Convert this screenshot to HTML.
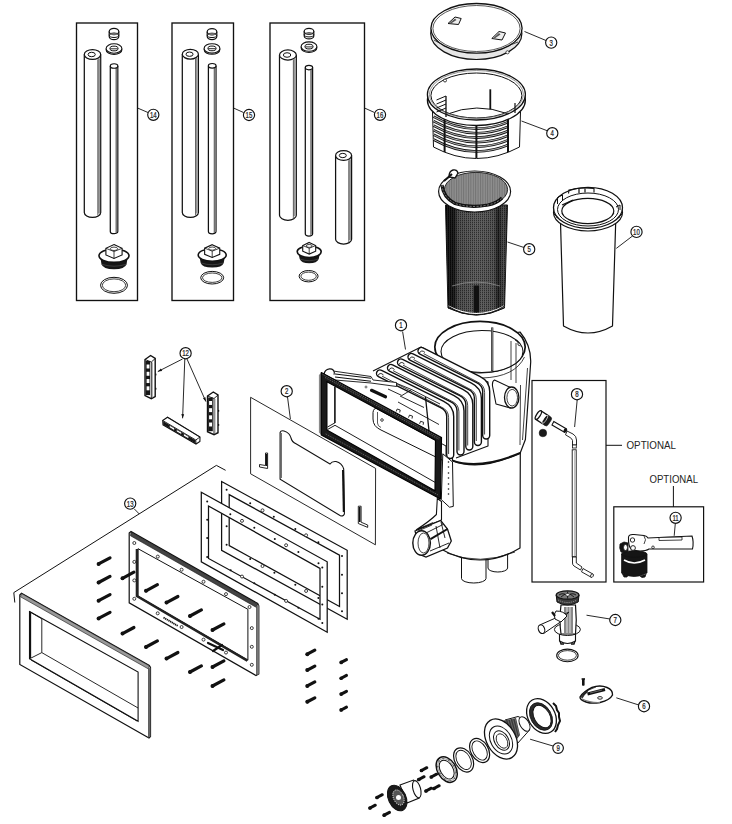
<!DOCTYPE html>
<html><head><meta charset="utf-8"><style>
html,body{margin:0;padding:0;background:#fff;}
svg{display:block;font-family:"Liberation Sans",sans-serif;} text{opacity:0.99;}
</style></head><body>
<svg width="732" height="824" viewBox="0 0 732 824">
<rect width="732" height="824" fill="#fff"/>
<rect x="76.5" y="23" width="61" height="277.5" fill="none" stroke="#111" stroke-width="1.35"/>
<rect x="172" y="23" width="61.5" height="277.5" fill="none" stroke="#111" stroke-width="1.35"/>
<rect x="270" y="23" width="94.5" height="277.5" fill="none" stroke="#111" stroke-width="1.35"/>
<path d="M109.2 31.536 L109.2 36.464 A4.8 3.136000000000001 0 0 0 118.8 36.464 L118.8 31.536" fill="#fff" stroke="#111" stroke-width="1.2"/>
<ellipse cx="114" cy="31.536" rx="4.8" ry="3.136000000000001" fill="#fff" stroke="#111" stroke-width="1.2"/>
<path d="M109.2 34.672 A4.8 2.822400000000001 0 0 0 118.8 34.672" fill="none" stroke="#111" stroke-width="1"/>
<path d="M110.2 34.672 A3.8 1.8816000000000006 0 0 1 117.8 34.672" fill="#888" stroke="#111" stroke-width="0.6"/>
<ellipse cx="114" cy="49.7" rx="7.9" ry="4.7" fill="#fff" stroke="#111" stroke-width="1.1"/>
<ellipse cx="114" cy="48.5" rx="7.9" ry="4.7" fill="#fff" stroke="#111" stroke-width="1.1"/>
<ellipse cx="114" cy="48.5" rx="4.1080000000000005" ry="2.35" fill="#fff" stroke="#111" stroke-width="1"/>
<path d="M110.208 48.8 L117.792 48.8" stroke="#111" stroke-width="0.9"/>
<path d="M84.3 54.5 L84.3 212.48000000000002 A8.200000000000003 4.920000000000002 0 0 0 100.7 212.48000000000002 L100.7 54.5" fill="#fff" stroke="#111" stroke-width="1.25"/>
<rect x="97.804" y="58.436" width="2.296000000000001" height="155.028" fill="#9a9a9a"/>
<line x1="97.804" y1="59.42" x2="97.804" y2="215.43200000000002" stroke="#333" stroke-width="0.7"/>
<ellipse cx="92.5" cy="54.5" rx="8.200000000000003" ry="4.920000000000002" fill="#fff" stroke="#111" stroke-width="1.2"/>
<ellipse cx="91.68" cy="54.5" rx="3.6080000000000014" ry="2.214000000000001" fill="#fff" stroke="#111" stroke-width="1"/>
<path d="M110.3 66 L110.3 231.45 A3.75 2.25 0 0 0 117.8 231.45 L117.8 66" fill="#fff" stroke="#111" stroke-width="1.25"/>
<rect x="116.0" y="67.8" width="1.2" height="164.1" fill="#9a9a9a"/>
<line x1="116.0" y1="68.25" x2="116.0" y2="232.79999999999998" stroke="#333" stroke-width="0.7"/>
<ellipse cx="114.05" cy="66" rx="3.75" ry="2.25" fill="#fff" stroke="#111" stroke-width="1.2"/>
<path d="M100.0 255.715 L101.5 264.36 Q103.0 269.3 114 269.3 Q125.0 269.3 126.5 264.36 L128.0 255.715 Z" fill="#161616"/>
<path d="M102.0 264.36 Q114 268.065 126.0 264.36" fill="none" stroke="#555" stroke-width="0.6"/>
<ellipse cx="114" cy="255.715" rx="15.0" ry="6.669000000000005" fill="#fff" stroke="#111" stroke-width="1.6"/>
<path d="M114 244.6 L122.1 248.305 L122.1 254.974 L114 258.432 L105.9 254.974 L105.9 248.305 Z" fill="#fff" stroke="#111" stroke-width="1.1"/>
<path d="M105.9 248.305 L114 251.516 L122.1 248.305 M114 251.516 L114 258.432" fill="none" stroke="#111" stroke-width="0.8"/>
<ellipse cx="114" cy="248.799" rx="3.645000000000001" ry="1.7290000000000014" fill="#fff" stroke="#111" stroke-width="0.8"/>
<ellipse cx="114" cy="285.3" rx="13.5" ry="8" fill="none" stroke="#111" stroke-width="1"/>
<ellipse cx="114" cy="285.3" rx="11.7" ry="6.4" fill="none" stroke="#111" stroke-width="0.8"/>
<path d="M207.2 31.752 L207.2 36.548 A4.8 3.052000000000001 0 0 0 216.79999999999998 36.548 L216.79999999999998 31.752" fill="#fff" stroke="#111" stroke-width="1.2"/>
<ellipse cx="212" cy="31.752" rx="4.8" ry="3.052000000000001" fill="#fff" stroke="#111" stroke-width="1.2"/>
<path d="M207.2 34.804 A4.8 2.746800000000001 0 0 0 216.79999999999998 34.804" fill="none" stroke="#111" stroke-width="1"/>
<path d="M208.2 34.804 A3.8 1.8312000000000004 0 0 1 215.79999999999998 34.804" fill="#888" stroke="#111" stroke-width="0.6"/>
<ellipse cx="212" cy="49.6" rx="7.9" ry="4.7" fill="#fff" stroke="#111" stroke-width="1.1"/>
<ellipse cx="212" cy="48.4" rx="7.9" ry="4.7" fill="#fff" stroke="#111" stroke-width="1.1"/>
<ellipse cx="212" cy="48.4" rx="4.1080000000000005" ry="2.35" fill="#fff" stroke="#111" stroke-width="1"/>
<path d="M208.208 48.699999999999996 L215.792 48.699999999999996" stroke="#111" stroke-width="0.9"/>
<path d="M182.3 54.2 L182.3 212.57 A8.049999999999997 4.829999999999998 0 0 0 198.4 212.57 L198.4 54.2" fill="#fff" stroke="#111" stroke-width="1.25"/>
<rect x="195.54600000000002" y="58.064" width="2.2539999999999996" height="155.47199999999998" fill="#9a9a9a"/>
<line x1="195.54600000000002" y1="59.03" x2="195.54600000000002" y2="215.46800000000002" stroke="#333" stroke-width="0.7"/>
<ellipse cx="190.35000000000002" cy="54.2" rx="8.049999999999997" ry="4.829999999999998" fill="#fff" stroke="#111" stroke-width="1.2"/>
<ellipse cx="189.54500000000002" cy="54.2" rx="3.541999999999999" ry="2.1734999999999993" fill="#fff" stroke="#111" stroke-width="1"/>
<path d="M208.4 65.8 L208.4 231.52 A3.799999999999997 2.279999999999998 0 0 0 216 231.52 L216 65.8" fill="#fff" stroke="#111" stroke-width="1.25"/>
<rect x="214.20000000000002" y="67.624" width="1.2" height="164.352" fill="#9a9a9a"/>
<line x1="214.20000000000002" y1="68.08" x2="214.20000000000002" y2="232.888" stroke="#333" stroke-width="0.7"/>
<ellipse cx="212.2" cy="65.8" rx="3.799999999999997" ry="2.279999999999998" fill="#fff" stroke="#111" stroke-width="1.2"/>
<path d="M199.2 255.005 L200.7 263.02000000000004 Q202.2 267.6 212.2 267.6 Q222.2 267.6 223.7 263.02000000000004 L225.2 255.005 Z" fill="#161616"/>
<path d="M201.2 263.02000000000004 Q212.2 266.45500000000004 223.2 263.02000000000004" fill="none" stroke="#555" stroke-width="0.6"/>
<ellipse cx="212.2" cy="255.005" rx="14.0" ry="6.18300000000001" fill="#fff" stroke="#111" stroke-width="1.6"/>
<path d="M212.2 244.7 L219.76 248.135 L219.76 254.318 L212.2 257.524 L204.64 254.318 L204.64 248.135 Z" fill="#fff" stroke="#111" stroke-width="1.1"/>
<path d="M204.64 248.135 L212.2 251.112 L219.76 248.135 M212.2 251.112 L212.2 257.524" fill="none" stroke="#111" stroke-width="0.8"/>
<ellipse cx="212.2" cy="248.593" rx="3.402" ry="1.6030000000000026" fill="#fff" stroke="#111" stroke-width="0.8"/>
<ellipse cx="212.2" cy="277.7" rx="11.5" ry="6.3" fill="none" stroke="#111" stroke-width="1"/>
<ellipse cx="212.2" cy="277.7" rx="9.7" ry="4.699999999999999" fill="none" stroke="#111" stroke-width="0.8"/>
<path d="M304.2 31.34 L304.2 35.96 A4.8 2.9400000000000004 0 0 0 313.8 35.96 L313.8 31.34" fill="#fff" stroke="#111" stroke-width="1.2"/>
<ellipse cx="309" cy="31.34" rx="4.8" ry="2.9400000000000004" fill="#fff" stroke="#111" stroke-width="1.2"/>
<path d="M304.2 34.28 A4.8 2.6460000000000004 0 0 0 313.8 34.28" fill="none" stroke="#111" stroke-width="1"/>
<path d="M305.2 34.28 A3.8 1.7640000000000002 0 0 1 312.8 34.28" fill="#888" stroke="#111" stroke-width="0.6"/>
<ellipse cx="309" cy="47.800000000000004" rx="7.9" ry="4.7" fill="#fff" stroke="#111" stroke-width="1.1"/>
<ellipse cx="309" cy="46.6" rx="7.9" ry="4.7" fill="#fff" stroke="#111" stroke-width="1.1"/>
<ellipse cx="309" cy="46.6" rx="4.1080000000000005" ry="2.35" fill="#fff" stroke="#111" stroke-width="1"/>
<path d="M305.208 46.9 L312.792 46.9" stroke="#111" stroke-width="0.9"/>
<path d="M279.5 55 L279.5 215.26000000000002 A8.400000000000006 5.040000000000004 0 0 0 296.3 215.26000000000002 L296.3 55" fill="#fff" stroke="#111" stroke-width="1.25"/>
<rect x="293.348" y="59.032000000000004" width="2.3520000000000016" height="157.23600000000002" fill="#9a9a9a"/>
<line x1="293.348" y1="60.040000000000006" x2="293.348" y2="218.28400000000002" stroke="#333" stroke-width="0.7"/>
<ellipse cx="287.9" cy="55" rx="8.400000000000006" ry="5.040000000000004" fill="#fff" stroke="#111" stroke-width="1.2"/>
<ellipse cx="287.06" cy="55" rx="3.6960000000000024" ry="2.2680000000000016" fill="#fff" stroke="#111" stroke-width="1"/>
<path d="M305.3 67.6 L305.3 233.81 A3.6500000000000057 2.1900000000000035 0 0 0 312.6 233.81 L312.6 67.6" fill="#fff" stroke="#111" stroke-width="1.25"/>
<rect x="310.8" y="69.352" width="1.2" height="164.896" fill="#9a9a9a"/>
<line x1="310.8" y1="69.78999999999999" x2="310.8" y2="235.124" stroke="#333" stroke-width="0.7"/>
<ellipse cx="308.95000000000005" cy="67.6" rx="3.6500000000000057" ry="2.1900000000000035" fill="#fff" stroke="#111" stroke-width="1.2"/>
<path d="M335.6 155.5 L335.6 239.2 A8.0 4.8 0 0 0 351.6 239.2 L351.6 155.5" fill="#fff" stroke="#111" stroke-width="1.25"/>
<rect x="348.76" y="159.34" width="2.24" height="80.82" fill="#9a9a9a"/>
<line x1="348.76" y1="160.3" x2="348.76" y2="242.08" stroke="#333" stroke-width="0.7"/>
<ellipse cx="343.6" cy="155.5" rx="8.0" ry="4.8" fill="#fff" stroke="#111" stroke-width="1.2"/>
<ellipse cx="342.8" cy="155.5" rx="3.52" ry="2.16" fill="#fff" stroke="#111" stroke-width="1"/>
<path d="M298.2 251.805 L299.7 259.12 Q301.2 263.3 309.2 263.3 Q317.2 263.3 318.7 259.12 L320.2 251.805 Z" fill="#161616"/>
<path d="M300.2 259.12 Q309.2 262.255 318.2 259.12" fill="none" stroke="#555" stroke-width="0.6"/>
<ellipse cx="309.2" cy="251.805" rx="12.0" ry="5.643000000000002" fill="#fff" stroke="#111" stroke-width="1.6"/>
<path d="M309.2 242.4 L315.68 245.535 L315.68 251.178 L309.2 254.104 L302.71999999999997 251.178 L302.71999999999997 245.535 Z" fill="#fff" stroke="#111" stroke-width="1.1"/>
<path d="M302.71999999999997 245.535 L309.2 248.252 L315.68 245.535 M309.2 248.252 L309.2 254.104" fill="none" stroke="#111" stroke-width="0.8"/>
<ellipse cx="309.2" cy="245.953" rx="2.9160000000000004" ry="1.4630000000000005" fill="#fff" stroke="#111" stroke-width="0.8"/>
<ellipse cx="308.6" cy="276.2" rx="9.5" ry="5.7" fill="none" stroke="#111" stroke-width="1"/>
<ellipse cx="308.6" cy="276.2" rx="7.7" ry="4.1" fill="none" stroke="#111" stroke-width="0.8"/>
<line x1="137.5" y1="108" x2="148" y2="112.5" stroke="#111" stroke-width="0.9"/>
<circle cx="153.3" cy="114.8" r="5.6" fill="#fff" stroke="#111" stroke-width="1.15"/>
<text x="153.3" y="117.75" font-size="8.2" text-anchor="middle" fill="#222" stroke="#222" stroke-width="0.25" transform="translate(153.3 0) scale(0.74 1) translate(-153.3 0)">14</text>
<line x1="233.5" y1="108" x2="243.5" y2="112.5" stroke="#111" stroke-width="0.9"/>
<circle cx="249" cy="115" r="5.6" fill="#fff" stroke="#111" stroke-width="1.15"/>
<text x="249" y="117.95" font-size="8.2" text-anchor="middle" fill="#222" stroke="#222" stroke-width="0.25" transform="translate(249 0) scale(0.74 1) translate(-249 0)">15</text>
<line x1="364.5" y1="108" x2="374.5" y2="112.5" stroke="#111" stroke-width="0.9"/>
<circle cx="380" cy="114.8" r="5.6" fill="#fff" stroke="#111" stroke-width="1.15"/>
<text x="380" y="117.75" font-size="8.2" text-anchor="middle" fill="#222" stroke="#222" stroke-width="0.25" transform="translate(380 0) scale(0.74 1) translate(-380 0)">16</text>
<g stroke="#111" fill="#fff">
<ellipse cx="476.3" cy="33.5" rx="45.6" ry="26" fill="#e6e6e6" stroke-width="1.2"/>
<path d="M434 40 Q470 63 518 42" fill="none" stroke="#444" stroke-width="1"/>
<ellipse cx="476.5" cy="28.3" rx="45.6" ry="24.8" stroke-width="1.3"/>
<ellipse cx="476.5" cy="28.5" rx="43.6" ry="23" fill="none" stroke-width="0.7"/>
<path d="M448 23.5 L455 17 L461.2 18.5 L458.5 24.5 Z" fill="#eee" stroke-width="1"/>
<path d="M449.5 23 L455 18.5 L456.5 20 L451.5 23.3 Z" fill="#555" stroke="none"/>
<path d="M491.8 38.5 L499 31.5 L505.5 33 L502 40 Z" fill="#eee" stroke-width="1"/>
<path d="M493.3 38 L499 33 L500.5 34.5 L495 38.3 Z" fill="#555" stroke="none"/>
<circle cx="507.5" cy="52.3" r="1.6" stroke-width="0.7"/>
</g>
<line x1="524.5" y1="31.5" x2="546" y2="40.5" stroke="#111" stroke-width="0.9"/>
<circle cx="551.2" cy="42.6" r="5.6" fill="#fff" stroke="#111" stroke-width="1.15"/>
<text x="551.2" y="45.550000000000004" font-size="8.2" text-anchor="middle" fill="#222" stroke="#222" stroke-width="0.25" transform="translate(551.2 0) scale(0.74 1) translate(-551.2 0)">3</text>
<g stroke="#111" fill="#fff">
<path d="M432.5 112 L433.5 147 Q476.4 170 519.5 147 L520.5 112 Z" stroke-width="1"/>
<clipPath id="slc"><rect x="430" y="100" width="78.5" height="70"/></clipPath>
<path d="M433.5 116.69999999999999 Q476.4 140.7 519.5 116.69999999999999" fill="none" stroke-width="2.6" clip-path="url(#slc)"/>
<path d="M433.5 116.69999999999999 Q476.4 140.7 519.5 116.69999999999999" fill="none" stroke="#fff" stroke-width="0.7" clip-path="url(#slc)"/>
<path d="M433.5 121.19999999999999 Q476.4 145.2 519.5 121.19999999999999" fill="none" stroke-width="2.6" clip-path="url(#slc)"/>
<path d="M433.5 121.19999999999999 Q476.4 145.2 519.5 121.19999999999999" fill="none" stroke="#fff" stroke-width="0.7" clip-path="url(#slc)"/>
<path d="M433.5 125.6 Q476.4 149.6 519.5 125.6" fill="none" stroke-width="2.6" clip-path="url(#slc)"/>
<path d="M433.5 125.6 Q476.4 149.6 519.5 125.6" fill="none" stroke="#fff" stroke-width="0.7" clip-path="url(#slc)"/>
<path d="M433.5 130.2 Q476.4 154.2 519.5 130.2" fill="none" stroke-width="2.6" clip-path="url(#slc)"/>
<path d="M433.5 130.2 Q476.4 154.2 519.5 130.2" fill="none" stroke="#fff" stroke-width="0.7" clip-path="url(#slc)"/>
<path d="M433.5 134.7 Q476.4 158.7 519.5 134.7" fill="none" stroke-width="2.6" clip-path="url(#slc)"/>
<path d="M433.5 134.7 Q476.4 158.7 519.5 134.7" fill="none" stroke="#fff" stroke-width="0.7" clip-path="url(#slc)"/>
<path d="M433.5 139.5 Q476.4 163.5 519.5 139.5" fill="none" stroke-width="2.6" clip-path="url(#slc)"/>
<path d="M433.5 139.5 Q476.4 163.5 519.5 139.5" fill="none" stroke="#fff" stroke-width="0.7" clip-path="url(#slc)"/>
<path d="M508 126 L508 150" stroke-width="1"/>
<line x1="444.6" y1="118" x2="444.6" y2="152" stroke-width="2"/>
<line x1="476.4" y1="124" x2="476.4" y2="158" stroke-width="2"/>
<line x1="508" y1="118" x2="508" y2="152" stroke-width="2"/>
<ellipse cx="476.4" cy="100" rx="49" ry="25.5" stroke-width="1.3"/>
<ellipse cx="476.4" cy="94.5" rx="49" ry="25.5" stroke-width="1.3"/>
<ellipse cx="476.4" cy="95.5" rx="45.5" ry="22.5" fill="#fff" stroke-width="1"/>
<path d="M446.5 114.4 Q476.6 102 507.5 113.7" fill="none" stroke-width="1"/>
<ellipse cx="476.4" cy="94.5" rx="47" ry="24" fill="none" stroke="#777" stroke-width="0.8"/>
<line x1="490.3" y1="89.3" x2="490.3" y2="109.3" stroke-width="1.8"/>
<line x1="515" y1="103" x2="515" y2="113" stroke-width="1.2"/>
<path d="M436.5 100 L446 96" stroke-width="1"/>
<path d="M436.5 104 L446 100" stroke-width="1"/>
<path d="M436.5 108 L446 104" stroke-width="1"/>
<path d="M436.5 112 L446 108" stroke-width="1"/>
<line x1="446" y1="96" x2="446" y2="117" stroke-width="1.3"/>
<circle cx="445" cy="80.5" r="1.5" stroke-width="0.8"/>
</g>
<line x1="521.5" y1="121" x2="548" y2="131" stroke="#111" stroke-width="0.9"/>
<circle cx="552.3" cy="133.2" r="5.6" fill="#fff" stroke="#111" stroke-width="1.15"/>
<text x="552.3" y="136.14999999999998" font-size="8.2" text-anchor="middle" fill="#222" stroke="#222" stroke-width="0.25" transform="translate(552.3 0) scale(0.74 1) translate(-552.3 0)">4</text>
<defs><linearGradient id="bk" x1="0" x2="1" y1="0" y2="0"><stop offset="0" stop-color="#0a0a0a"/><stop offset="0.14" stop-color="#111"/><stop offset="0.2" stop-color="#444"/><stop offset="0.5" stop-color="#555"/><stop offset="0.78" stop-color="#4a4a4a"/><stop offset="0.85" stop-color="#1a1a1a"/><stop offset="0.93" stop-color="#444"/><stop offset="1" stop-color="#2a2a2a"/></linearGradient><pattern id="mesh" width="2" height="2" patternUnits="userSpaceOnUse"><rect x="0" y="0" width="1" height="1" fill="#000" fill-opacity="0.45"/><rect x="1" y="0" width="1" height="2" fill="#fff" fill-opacity="0.08"/></pattern></defs>
<path d="M445.5 205 L448 308 Q476.4 322 504.5 308 L507.5 205 Z" fill="url(#bk)" stroke="#111" stroke-width="1"/>
<path d="M445.5 205 L448 308 Q476.4 322 504.5 308 L507.5 205 Z" fill="url(#mesh)"/>
<rect x="473.6" y="285.5" width="5.6" height="27" fill="#111"/>
<path d="M452 286 Q476 278 500 286" fill="none" stroke="#999" stroke-width="0.7"/>
<path d="M448.3 306 Q476.4 321 504.2 306" fill="none" stroke="#fff" stroke-width="1.2"/>
<path d="M447.8 306 Q476.4 324 504.6 306" fill="none" stroke="#111" stroke-width="0.9"/>
<ellipse cx="474.6" cy="191.5" rx="36" ry="20.5" fill="#fff" stroke="#111" stroke-width="1.2"/>
<ellipse cx="476" cy="189.6" rx="31.6" ry="17.2" fill="#8f8f8f" stroke="#111" stroke-width="0.9"/>
<pattern id="vst" width="2.4" height="4" patternUnits="userSpaceOnUse"><rect width="1" height="4" fill="#555" fill-opacity="0.5"/></pattern>
<ellipse cx="476" cy="189.6" rx="31.6" ry="17.2" fill="url(#vst)"/>
<path d="M442 185 Q443 197 455 203.5 Q470 208.5 488 205 Q497 203 502 198" fill="none" stroke="#111" stroke-width="3.2"/>
<path d="M442 185 Q443 197 455 203.5 Q470 208.5 488 205 Q497 203 502 198" fill="none" stroke="#999" stroke-width="0.8" stroke-dasharray="2 1.5"/>
<path d="M449 177 Q449 171 453 170 Q457 169 458 173 L455 178 Z" fill="#fff" stroke="#111" stroke-width="1.3"/>
<path d="M444 181 L452 174" stroke="#111" stroke-width="2"/>
<line x1="507.5" y1="242" x2="524" y2="247.5" stroke="#111" stroke-width="0.9"/>
<circle cx="529.2" cy="249.2" r="5.6" fill="#fff" stroke="#111" stroke-width="1.15"/>
<text x="529.2" y="252.14999999999998" font-size="8.2" text-anchor="middle" fill="#222" stroke="#222" stroke-width="0.25" transform="translate(529.2 0) scale(0.74 1) translate(-529.2 0)">5</text>
<g stroke="#111" fill="#fff">
<path d="M560.5 222 L563.5 326 Q588 340 612.5 326 L615.7 222 Z" stroke-width="1.2"/>
<ellipse cx="588" cy="212.5" rx="34.5" ry="18.5" stroke-width="1.2"/>
<path d="M554 214 Q588 240 622 214" fill="none" stroke-width="1.2"/>
<path d="M556 217 Q588 238 620 217" fill="none" stroke="#555" stroke-width="1"/>
<ellipse cx="588" cy="207.8" rx="34.5" ry="20.5" stroke-width="1.3"/>
<ellipse cx="588" cy="209.5" rx="30.5" ry="16.5" fill="none" stroke-width="1"/>
<path d="M562 213 Q588 232 614 213" fill="none" stroke="#333" stroke-width="1.4"/>
<ellipse cx="587.8" cy="211" rx="26" ry="12.6" stroke-width="1.2"/>
<path d="M568.5 193.5 L569 190 Q581 187 594 188.5 L594 192.5" fill="none" stroke-width="1.1"/>
<path d="M579 189 L579 193 M585 188.5 L585 192.5" fill="none" stroke-width="1.2"/>
<path d="M557.5 204 L557.5 197.5 L562.5 195 L562.5 201" fill="none" stroke-width="1"/>
<path d="M562 205 L573 200" stroke-width="1.3"/>
<path d="M616 207 L620 205 L620 210" fill="none" stroke-width="1"/>
</g>
<line x1="616.3" y1="248.4" x2="632.5" y2="236" stroke="#111" stroke-width="0.9"/>
<circle cx="636.5" cy="231.9" r="5.6" fill="#fff" stroke="#111" stroke-width="1.15"/>
<text x="636.5" y="234.85" font-size="8.2" text-anchor="middle" fill="#222" stroke="#222" stroke-width="0.25" transform="translate(636.5 0) scale(0.74 1) translate(-636.5 0)">10</text>
<g stroke="#111" fill="#fff" stroke-linejoin="round">
<path d="M488 548 L488 568 A9.8 4 0 0 0 507.6 568 L507.6 548 Z" stroke-width="1"/>
<path d="M461.5 550 L461.5 578.5 A12.25 4.5 0 0 0 486 578.5 L486 550 Z" stroke-width="1"/>
<path d="M439 455 L439 548 Q480 572 520 548 L520.3 453 Z" stroke-width="1.2"/>
<path d="M447 553 Q480 566 515 552" fill="none" stroke-width="0.8"/>
<path d="M435 349 Q440 380 452 400 L452.5 460.6 Q480 472 520.2 453 L525.4 439.5 L530.7 362 Q531 345 520 332 Z" stroke-width="1.2"/>
<path d="M452.5 460.6 Q480 470 520.2 453" fill="none" stroke-width="2"/>
<line x1="527.5" y1="368" x2="522.5" y2="440" stroke-width="0.8"/>
<line x1="520.5" y1="385" x2="520" y2="445" stroke-width="0.8"/>
<ellipse cx="480" cy="347" rx="45.2" ry="25.6" stroke-width="1.7"/>
<ellipse cx="482" cy="351.5" rx="41" ry="21" stroke-width="1.1"/>
<path d="M436 356 Q446 378 482 378 Q515 377 524.5 357" fill="none" stroke-width="0.8"/>
<path d="M492.2 327.5 L492.2 371" stroke-width="2.2"/>
<path d="M492.2 328 L492.2 370.5" stroke="#fff" stroke-width="0.6"/>
<line x1="511" y1="341" x2="511" y2="380" stroke-width="0.8"/>
<line x1="516" y1="343" x2="516" y2="383" stroke-width="0.8"/>
<path d="M515 340 L518 342 L518 345 L520.5 346" fill="none" stroke-width="0.8"/>
<path d="M494.5 380 Q492 381 492.5 386 L496 404 L510.5 408 L510 387.3 Z" stroke-width="1.1"/>
<ellipse cx="511.7" cy="397.5" rx="7.2" ry="10.5" stroke-width="1.3"/>
<ellipse cx="512.2" cy="397.7" rx="5.3" ry="8.3" fill="none" stroke-width="0.8"/>
<path d="M373 371 L421 347 L476 377 L488 382 L488 446 L456 458 L448 455 L445 442 L437 440 L400 420 L373 405 Z" stroke="none"/>
<path d="M373 371 L421 347 L476 377 L488 382 L488 446 L456 458" fill="none" stroke-width="1.1"/>
<path d="M421.5 351 L478.2 379.4 Q486.2 383.35 486.2 391.4 L486.2 435.5" fill="none" stroke="#111" stroke-width="8.4" stroke-linecap="round" stroke-linejoin="round"/>
<path d="M421.5 351 L478.2 379.4 Q486.2 383.35 486.2 391.4 L486.2 435.5" fill="none" stroke="#fff" stroke-width="5.6" stroke-linecap="round" stroke-linejoin="round"/>
<path d="M423.5 353.6 L477.2 381.8 Q484.6 384.9 484.6 392.4 L484.6 434.5" fill="none" stroke="#111" stroke-width="0.8"/>
<path d="M419.0 353.5 Q421.5 349 425.0 352.5" fill="none" stroke="#111" stroke-width="0.9"/>
<path d="M411.5 357 L469.9 386.2 Q477.9 390.2 477.9 398.2 L477.9 442" fill="none" stroke="#111" stroke-width="8.4" stroke-linecap="round" stroke-linejoin="round"/>
<path d="M411.5 357 L469.9 386.2 Q477.9 390.2 477.9 398.2 L477.9 442" fill="none" stroke="#fff" stroke-width="5.6" stroke-linecap="round" stroke-linejoin="round"/>
<path d="M413.5 359.6 L468.9 388.6 Q476.3 391.7 476.3 399.2 L476.3 441" fill="none" stroke="#111" stroke-width="0.8"/>
<path d="M409.0 359.5 Q411.5 355 415.0 358.5" fill="none" stroke="#111" stroke-width="0.9"/>
<path d="M401 362.5 L461.3 392.6 Q469.3 396.65 469.3 404.6 L469.3 446.5" fill="none" stroke="#111" stroke-width="8.4" stroke-linecap="round" stroke-linejoin="round"/>
<path d="M401 362.5 L461.3 392.6 Q469.3 396.65 469.3 404.6 L469.3 446.5" fill="none" stroke="#fff" stroke-width="5.6" stroke-linecap="round" stroke-linejoin="round"/>
<path d="M403.0 365.1 L460.3 395.0 Q467.7 398.1 467.7 405.6 L467.7 445.5" fill="none" stroke="#111" stroke-width="0.8"/>
<path d="M398.5 365.0 Q401 360.5 404.5 364.0" fill="none" stroke="#111" stroke-width="0.9"/>
<path d="M391 368 L452.5 398.8 Q460.5 402.75 460.5 410.8 L460.5 451.5" fill="none" stroke="#111" stroke-width="8.4" stroke-linecap="round" stroke-linejoin="round"/>
<path d="M391 368 L452.5 398.8 Q460.5 402.75 460.5 410.8 L460.5 451.5" fill="none" stroke="#fff" stroke-width="5.6" stroke-linecap="round" stroke-linejoin="round"/>
<path d="M393.0 370.6 L451.5 401.1 Q458.9 404.2 458.9 411.8 L458.9 450.5" fill="none" stroke="#111" stroke-width="0.8"/>
<path d="M388.5 370.5 Q391 366 394.5 369.5" fill="none" stroke="#111" stroke-width="0.9"/>
<path d="M380 373.5 L442.2 404.6 Q450.2 408.6 450.2 416.6 L450.2 455" fill="none" stroke="#111" stroke-width="8.4" stroke-linecap="round" stroke-linejoin="round"/>
<path d="M380 373.5 L442.2 404.6 Q450.2 408.6 450.2 416.6 L450.2 455" fill="none" stroke="#fff" stroke-width="5.6" stroke-linecap="round" stroke-linejoin="round"/>
<path d="M382.0 376.1 L441.2 407.0 Q448.6 410.1 448.6 417.6 L448.6 454" fill="none" stroke="#111" stroke-width="0.8"/>
<path d="M377.5 376.0 Q380 371.5 383.5 375.0" fill="none" stroke="#111" stroke-width="0.9"/>
<path d="M323 374 L333 371 L371 376.5 L373 380 L396.5 382.5 L396.5 386.5 L371 383 L335 380 Z" stroke-width="0.9"/>
<path d="M333 373.8 L371 378.2 M335 377 L371 381.3" fill="none" stroke-width="1.1"/>
<path d="M324 374.5 Q324.5 369.5 329.5 368.8 Q334 368.5 334.5 373.5" stroke-width="1.2"/>
<path d="M373 405 L400 420 L437 440 L437 488 L373 452 Z" stroke="none"/>
<path d="M376.5 408.5 L446 446 L446 462 L381 430 Q373 426.5 373 419 L373 412.5 Q373.5 408 376.5 408.5 Z" fill="#fff" stroke-width="1"/>
<path d="M377.5 412 L377.5 423 Q377.5 426 381 427.5" fill="none" stroke-width="0.7"/>
<circle cx="382" cy="420" r="1.3" stroke-width="0.8"/>
<path d="M425.5 397 L429 431" stroke-width="1.3"/>
<path d="M398 402 L439 424.5 M400 396 L424 407.5 M397 383.5 L411.7 389.6 L401.9 395.5 L388 389 M411.7 389.6 L440 404" fill="none" stroke-width="0.9"/>
<path d="M396.2 411.5 L397.2 409.0 L400.2 410.0 L399.7 412.5" fill="#fff" stroke-width="0.9"/>
<path d="M408.5 417.6 L409.5 415.1 L412.5 416.1 L412.0 418.6" fill="#fff" stroke-width="0.9"/>
<path d="M419.6 423.8 L420.6 421.3 L423.6 422.3 L423.1 424.8" fill="#fff" stroke-width="0.9"/>
<path d="M371.5 390.3 L385.5 396.8" stroke="#111" stroke-width="3.2" stroke-linecap="round"/>
<circle cx="366" cy="387" r="1" stroke-width="0.6"/>
</g>
<path d="M318.9 375 L321.5 372.5 L321.5 435 L318.9 432.5 Z" fill="#8a8a8a"/>
<path d="M321.3 372.5 L441.5 437.5 L440.5 499 L321.3 435 Z M326.9 381.7 L435.5 440.3 L435 490.7 L326.9 430 Z" fill="#1a1a1a" fill-rule="evenodd" stroke="#000" stroke-width="1.2" stroke-linejoin="round"/>
<path d="M325 377.5 L438.5 439 M437.8 494.8 L325 433.5" fill="none" stroke="#777" stroke-width="0.8" stroke-dasharray="1 1"/>
<path d="M322.5 374.2 L440 438" fill="none" stroke="#aaa" stroke-width="0.5" stroke-dasharray="1.2 1"/>
<g stroke="#111" fill="none" stroke-width="0.95">
<path d="M327.5 429.5 L335 425.3 L435 482.3"/>
<path d="M334.9 386.5 L334.9 423.1" stroke-width="1.6"/>
<path d="M327.5 427 L335 422.8"/>
</g>
<path d="M442.8 453.8 L452.5 462 L453.3 506.4 L449.5 507.2 L441.3 499.6 Z" fill="#fff" stroke="#111" stroke-width="1"/>
<circle cx="448.5" cy="462" r="0.8" fill="#111"/>
<circle cx="448.5" cy="467" r="0.8" fill="#111"/>
<circle cx="448.5" cy="473" r="0.8" fill="#111"/>
<circle cx="448.5" cy="478" r="0.8" fill="#111"/>
<circle cx="448.5" cy="484" r="0.8" fill="#111"/>
<circle cx="448.5" cy="489" r="0.8" fill="#111"/>
<circle cx="448.5" cy="494" r="0.8" fill="#111"/>
<g stroke="#111" fill="#fff" stroke-width="1.1">
<path d="M437.3 498.5 L436.4 514.5 Q430 521 416 530 L440.7 520.5 L441.5 519.6 L441.5 501.5 Z" stroke-width="1.1"/>
<path d="M415 531 L440.7 520.5 L447.5 529 L451.3 541 L447.5 548 L426 557 L421.6 555.3 Z" stroke-width="1.3"/>
<path d="M426 533 L443 524.5 M430 551 L449 543 M441 522 L445 538 M436 526 L440 548" fill="none" stroke-width="0.9"/>
<path d="M430.5 539.2 L447.5 529" fill="none" stroke-width="2"/>
<ellipse cx="421.6" cy="543" rx="8.8" ry="12.3" stroke-width="1.4"/>
<ellipse cx="423.5" cy="543" rx="5.5" ry="10" fill="none" stroke-width="0.8"/>
<path d="M418 531 L432 525 M418 529 L433 522.5" fill="none" stroke-width="0.8"/>
</g>
<line x1="402.6" y1="331.5" x2="405.5" y2="349.5" stroke="#111" stroke-width="0.9"/>
<circle cx="401" cy="325.2" r="5.6" fill="#fff" stroke="#111" stroke-width="1.15"/>
<text x="401" y="328.15" font-size="8.2" text-anchor="middle" fill="#222" stroke="#222" stroke-width="0.25" transform="translate(401 0) scale(0.74 1) translate(-401 0)">1</text>
<path d="M145 359.5 L150.60999999999999 355.5 L155.2 358.5 L155.2 396.6 L151.32399999999998 398.6 L145 395.6 Z" fill="#fff" stroke="#111" stroke-width="1.4"/>
<path d="M145 359.5 L151.32399999999998 362.0 L155.2 358.5 M151.32399999999998 362.0 L151.32399999999998 398.6" fill="none" stroke="#111" stroke-width="0.9"/>
<rect x="145.6" y="361.0" width="4.523999999999984" height="34.10000000000002" fill="#151515"/>
<rect x="146.6" y="364.5" width="2.845799999999993" height="4.001250000000003" fill="#fff"/>
<rect x="146.6" y="371.775" width="2.845799999999993" height="4.001250000000003" fill="#fff"/>
<rect x="146.6" y="379.05" width="2.845799999999993" height="4.001250000000003" fill="#fff"/>
<rect x="146.6" y="386.32500000000005" width="2.845799999999993" height="4.001250000000003" fill="#fff"/>
<line x1="152.32399999999998" y1="362.5" x2="152.32399999999998" y2="397.6" stroke="#888" stroke-width="0.8"/>
<rect x="155.2" y="373.60200000000003" width="1.2" height="1.8" fill="#111"/>
<rect x="155.2" y="387.82500000000005" width="1.2" height="1.8" fill="#111"/>
<path d="M207.5 396 L213.275 392 L218 395 L218 432.7 L214.01 434.7 L207.5 431.7 Z" fill="#fff" stroke="#111" stroke-width="1.4"/>
<path d="M207.5 396 L214.01 398.5 L218 395 M214.01 398.5 L214.01 434.7" fill="none" stroke="#111" stroke-width="0.9"/>
<rect x="208.1" y="397.5" width="4.709999999999991" height="33.69999999999999" fill="#151515"/>
<rect x="209.1" y="401.0" width="2.929499999999996" height="3.9462499999999987" fill="#fff"/>
<rect x="209.1" y="408.175" width="2.929499999999996" height="3.9462499999999987" fill="#fff"/>
<rect x="209.1" y="415.35" width="2.929499999999996" height="3.9462499999999987" fill="#fff"/>
<rect x="209.1" y="422.525" width="2.929499999999996" height="3.9462499999999987" fill="#fff"/>
<line x1="215.01" y1="399" x2="215.01" y2="433.7" stroke="#888" stroke-width="0.8"/>
<rect x="218" y="409.93399999999997" width="1.2" height="1.8" fill="#111"/>
<rect x="218" y="424.025" width="1.2" height="1.8" fill="#111"/>
<path d="M162.7 420.5 L167.5 417.2 L200 437 L199.9 441.5 L196 444 L163 424.8 Z" fill="#fff" stroke="#111" stroke-width="1.1"/>
<path d="M162.7 420.5 L195.8 440 L200 437 M195.8 440 L196 444" fill="none" stroke="#111" stroke-width="0.9"/>
<path d="M163.2 421.2 L195.5 440.3 L195.6 443.6 L163.2 424.6 Z" fill="#151515"/>
<path d="M169.66 425.7 L174.16 428.3 L174.16 429.90000000000003 L169.66 427.3 Z" fill="#fff"/>
<path d="M176.766 429.88 L181.266 432.48 L181.266 434.08000000000004 L176.766 431.48 Z" fill="#fff"/>
<path d="M183.87199999999999 434.06 L188.37199999999999 436.66 L188.37199999999999 438.26000000000005 L183.87199999999999 435.66 Z" fill="#fff"/>
<path d="M167.5 417.2 L200 437" stroke="#111" stroke-width="0.6"/>
<line x1="182.5" y1="359" x2="157.8" y2="371.6" stroke="#111" stroke-width="0.9"/>
<path d="M157.8 371.6 L160.90514826749913 368.44436151676916 L162.1775017039378 370.93857817391483 Z" fill="#111"/>
<line x1="184.8" y1="359" x2="182.6" y2="418.3" stroke="#111" stroke-width="0.9"/>
<path d="M182.6 418.3 L181.35667322136314 414.0509838172202 L184.1547482867584 414.1547909865941 Z" fill="#111"/>
<line x1="187" y1="359" x2="205.9" y2="401.6" stroke="#111" stroke-width="0.9"/>
<path d="M205.9 401.6 L202.91701978397236 398.3286349896737 L205.47643483337373 397.19311986212233 Z" fill="#111"/>
<circle cx="185.6" cy="353.2" r="5.6" fill="#fff" stroke="#111" stroke-width="1.15"/>
<text x="185.6" y="356.15" font-size="8.2" text-anchor="middle" fill="#222" stroke="#222" stroke-width="0.25" transform="translate(185.6 0) scale(0.74 1) translate(-185.6 0)">12</text>
<g stroke="#111" fill="none" stroke-width="0.9">
<path d="M250.6 397.3 L375.6 468.4 L375.4 544.8 L250.6 473.8 Z" fill="#fff"/>
<path d="M280.1 432.5 Q281 430 284 431 Q290 433 291 438 Q292 442 296 443.8 L330 464 Q332 461 336 461.5 Q342 463 343.7 469 L344.4 514 Q343 517 340 515.5 L280.1 479.3 Z" fill="#fff" stroke-width="1.1"/>
<path d="M343 470 L343.8 512" stroke-width="2"/>
<path d="M281.5 433 L281.5 478" stroke-width="0.6"/>
<path d="M265.5 453 L267.6 453 L267.6 468.5 L259.5 467 L259.5 464.5 L265.5 465.5 Z" fill="#fff" stroke-width="0.9"/>
<line x1="266.5" y1="454" x2="266.5" y2="466" stroke-width="1.6"/>
<path d="M358.3 506.2 L361.1 506.2 L361.1 522.2 L367.7 525 L367.7 527.4 L358.3 523.5 Z" fill="#fff" stroke-width="0.9"/>
<line x1="359.7" y1="507" x2="359.7" y2="522" stroke-width="1.6"/>
</g>
<line x1="287.5" y1="397" x2="290.4" y2="419" stroke="#111" stroke-width="0.9"/>
<circle cx="286.7" cy="391.2" r="5.6" fill="#fff" stroke="#111" stroke-width="1.15"/>
<text x="286.7" y="394.15" font-size="8.2" text-anchor="middle" fill="#222" stroke="#222" stroke-width="0.25" transform="translate(286.7 0) scale(0.74 1) translate(-286.7 0)">2</text>
<path d="M14.8 602.5 L13.8 592.6 L216.4 465.4 L225.6 470.3" fill="none" stroke="#111" stroke-width="1"/>
<line x1="134.4" y1="509" x2="139.3" y2="514" stroke="#111" stroke-width="0.9"/>
<circle cx="130.2" cy="503.6" r="5.6" fill="#fff" stroke="#111" stroke-width="1.15"/>
<text x="130.2" y="506.55" font-size="8.2" text-anchor="middle" fill="#222" stroke="#222" stroke-width="0.25" transform="translate(130.2 0) scale(0.74 1) translate(-130.2 0)">13</text>
<path d="M221.6 481.5 L347.2 550.3 L347.2 619.2 L221.6 550.3 Z M229.2 494.6 L339.5 555.2 L339.5 606.5 L229.2 545.6 Z" fill="#fff" fill-rule="evenodd" stroke="#111" stroke-width="1.25"/>
<path d="M201.3 492.3 L327.2 561.8 L327.2 632.3 L201.3 561.8 Z M208.5 506 L320 568.4 L320 619.2 L208.5 558.5 Z" fill="#fff" fill-rule="evenodd" stroke="#111" stroke-width="1.25"/>
<circle cx="226.6" cy="489.8" r="1" fill="#111"/>
<circle cx="250.2" cy="503.2992" r="1" fill="#111"/>
<circle cx="262.5" cy="510.33480000000003" r="1.5" fill="#fff" stroke="#111" stroke-width="0.8"/>
<circle cx="273.8" cy="516.7984" r="1" fill="#111"/>
<circle cx="295.3" cy="529.0964" r="1" fill="#111"/>
<circle cx="306.1" cy="535.274" r="1.5" fill="#fff" stroke="#111" stroke-width="0.8"/>
<circle cx="318.4" cy="542.3096" r="1" fill="#111"/>
<circle cx="250.2" cy="559.0" r="1" fill="#111"/>
<circle cx="262.5" cy="566.0356" r="1.5" fill="#fff" stroke="#111" stroke-width="0.8"/>
<circle cx="274.4" cy="572.8424" r="1" fill="#111"/>
<circle cx="295.3" cy="584.7972" r="1" fill="#111"/>
<circle cx="306.1" cy="590.9748" r="1.5" fill="#fff" stroke="#111" stroke-width="0.8"/>
<circle cx="318.4" cy="598.0104" r="1" fill="#111"/>
<circle cx="226.6" cy="526.2" r="1" fill="#111"/>
<circle cx="226.6" cy="544.7" r="1" fill="#111"/>
<circle cx="342" cy="555.9" r="1" fill="#111"/>
<circle cx="342" cy="574.8" r="1" fill="#111"/>
<circle cx="342" cy="593.2" r="1" fill="#111"/>
<circle cx="342" cy="611.3" r="1" fill="#111"/>
<circle cx="207.2" cy="501.6" r="1" fill="#111"/>
<circle cx="230.3" cy="514.3743000000001" r="1" fill="#111"/>
<circle cx="242" cy="520.8444000000001" r="1.5" fill="#fff" stroke="#111" stroke-width="0.8"/>
<circle cx="254.3" cy="527.6463" r="1" fill="#111"/>
<circle cx="274.8" cy="538.9828" r="1" fill="#111"/>
<circle cx="286.1" cy="545.2317" r="1.5" fill="#fff" stroke="#111" stroke-width="0.8"/>
<circle cx="298.4" cy="552.0336" r="1" fill="#111"/>
<circle cx="318.5" cy="563.1489" r="1" fill="#111"/>
<circle cx="230.7" cy="570.3" r="1" fill="#111"/>
<circle cx="242" cy="576.5489" r="1.5" fill="#fff" stroke="#111" stroke-width="0.8"/>
<circle cx="254.3" cy="583.3507999999999" r="1" fill="#111"/>
<circle cx="274.8" cy="594.6872999999999" r="1" fill="#111"/>
<circle cx="286.1" cy="600.9362" r="1.5" fill="#fff" stroke="#111" stroke-width="0.8"/>
<circle cx="298.4" cy="607.7380999999999" r="1" fill="#111"/>
<circle cx="318.5" cy="618.8534" r="1" fill="#111"/>
<circle cx="207.2" cy="519.7" r="1" fill="#111"/>
<circle cx="207.2" cy="538.1" r="1" fill="#111"/>
<circle cx="207.2" cy="557" r="1" fill="#111"/>
<circle cx="322.3" cy="567.6" r="1" fill="#111"/>
<circle cx="322.3" cy="586.7" r="1" fill="#111"/>
<circle cx="322.3" cy="604.5" r="1" fill="#111"/>
<circle cx="322.3" cy="623" r="1" fill="#111"/>
<path d="M129.2 533 L131 531.5 L257.7 603.5 L258.8 606 L258.8 674 L256 675.5 L129.2 602.8 Z" fill="#fff" stroke="#111" stroke-width="1.2"/>
<path d="M131 532 L257.7 604 L256.5 607.5 L130.5 535.8 Z" fill="#444" stroke="#111" stroke-width="0.6"/>
<path d="M256.5 607 L256.5 675" fill="none" stroke="#111" stroke-width="0.7"/>
<path d="M256.5 606.5 L258.8 605 L258.8 674 L256.5 675 Z" fill="#777"/>
<path d="M138 548.7 L247.9 609.3 L247.9 660.2 L138 596.2 Z" fill="#fff" stroke="#111" stroke-width="1"/>
<path d="M137 549 L137 596 L247.4 660.6" fill="none" stroke="#222" stroke-width="2.6"/>
<circle cx="157.8" cy="556.6" r="1.5" fill="#fff" stroke="#111" stroke-width="0.8"/>
<circle cx="181.6" cy="569.69" r="1.5" fill="#fff" stroke="#111" stroke-width="0.8"/>
<circle cx="203.5" cy="581.735" r="1.5" fill="#fff" stroke="#111" stroke-width="0.8"/>
<circle cx="226" cy="594.11" r="1.5" fill="#fff" stroke="#111" stroke-width="0.8"/>
<circle cx="249.5" cy="607.035" r="1.5" fill="#fff" stroke="#111" stroke-width="0.8"/>
<circle cx="157.7" cy="613.3" r="1.5" fill="#fff" stroke="#111" stroke-width="0.8"/>
<circle cx="181.6" cy="627.0424999999999" r="1.5" fill="#fff" stroke="#111" stroke-width="0.8"/>
<circle cx="203.5" cy="639.635" r="1.5" fill="#fff" stroke="#111" stroke-width="0.8"/>
<circle cx="226" cy="652.5725" r="1.5" fill="#fff" stroke="#111" stroke-width="0.8"/>
<circle cx="134.3" cy="543" r="1.5" fill="#fff" stroke="#111" stroke-width="0.8"/>
<circle cx="134.3" cy="561.9" r="1.5" fill="#fff" stroke="#111" stroke-width="0.8"/>
<circle cx="134.3" cy="580.4" r="1.5" fill="#fff" stroke="#111" stroke-width="0.8"/>
<circle cx="134.3" cy="598.8" r="1.5" fill="#fff" stroke="#111" stroke-width="0.8"/>
<circle cx="251.8" cy="628.1" r="1.5" fill="#fff" stroke="#111" stroke-width="0.8"/>
<circle cx="251.8" cy="646.8" r="1.5" fill="#fff" stroke="#111" stroke-width="0.8"/>
<circle cx="251.8" cy="664.8" r="1.5" fill="#fff" stroke="#111" stroke-width="0.8"/>
<path d="M163.5 617.5 L178 626" stroke="#111" stroke-width="1.8" stroke-dasharray="1.3 0.6"/>
<path d="M19.8 595 L21.5 593.2 L149.3 665.5 L150.5 667.5 L150.5 736.5 L149 738 L19.8 664.5 Z" fill="#fff" stroke="#111" stroke-width="1.2"/>
<path d="M21.5 593.5 L149.3 665.8 L148.5 669 L20.5 596.8 Z" fill="#999" stroke="#111" stroke-width="0.6"/>
<path d="M148.5 669 L148.5 737" fill="none" stroke="#111" stroke-width="0.7"/>
<path d="M148.5 668.5 L150.5 667.5 L150.5 736.5 L148.5 737.5 Z" fill="#666"/>
<path d="M29.5 611.6 L138.1 672.1 L138.1 721.3 L29.5 658.8 Z" fill="#fff" stroke="#111" stroke-width="1.1"/>
<path d="M29.5 611.6 L41.8 618.8 L41.8 652.6 L29.5 658.8 M41.8 652.6 L138.1 708 M31 660 L137 721" fill="none" stroke="#111" stroke-width="0.9"/>
<path d="M30.5 612 L30.5 658" stroke="#111" stroke-width="1.3"/>
<line x1="98.6" y1="563.9" x2="110.0" y2="557.8" stroke="#111" stroke-width="3.2" stroke-linecap="round"/>
<circle cx="98.6" cy="563.9" r="1.98" fill="#111"/>
<line x1="98.6" y1="582.5" x2="110.0" y2="576.4" stroke="#111" stroke-width="3.2" stroke-linecap="round"/>
<circle cx="98.6" cy="582.5" r="1.98" fill="#111"/>
<line x1="98.6" y1="600.7" x2="110.0" y2="594.6" stroke="#111" stroke-width="3.2" stroke-linecap="round"/>
<circle cx="98.6" cy="600.7" r="1.98" fill="#111"/>
<line x1="98.6" y1="618.4" x2="110.0" y2="612.3" stroke="#111" stroke-width="3.2" stroke-linecap="round"/>
<circle cx="98.6" cy="618.4" r="1.98" fill="#111"/>
<line x1="122.5" y1="578.3" x2="133.9" y2="572.2" stroke="#111" stroke-width="3.2" stroke-linecap="round"/>
<circle cx="122.5" cy="578.3" r="1.98" fill="#111"/>
<line x1="122.5" y1="633.6" x2="133.9" y2="627.5" stroke="#111" stroke-width="3.2" stroke-linecap="round"/>
<circle cx="122.5" cy="633.6" r="1.98" fill="#111"/>
<line x1="146" y1="590.8" x2="157.4" y2="584.7" stroke="#111" stroke-width="3.2" stroke-linecap="round"/>
<circle cx="146" cy="590.8" r="1.98" fill="#111"/>
<line x1="146" y1="647" x2="157.4" y2="640.9" stroke="#111" stroke-width="3.2" stroke-linecap="round"/>
<circle cx="146" cy="647" r="1.98" fill="#111"/>
<line x1="166.5" y1="602.6" x2="177.9" y2="596.5" stroke="#111" stroke-width="3.2" stroke-linecap="round"/>
<circle cx="166.5" cy="602.6" r="1.98" fill="#111"/>
<line x1="166.5" y1="658.6" x2="177.9" y2="652.5" stroke="#111" stroke-width="3.2" stroke-linecap="round"/>
<circle cx="166.5" cy="658.6" r="1.98" fill="#111"/>
<line x1="190" y1="616" x2="201.4" y2="609.9" stroke="#111" stroke-width="3.2" stroke-linecap="round"/>
<circle cx="190" cy="616" r="1.98" fill="#111"/>
<line x1="190" y1="672" x2="201.4" y2="665.9" stroke="#111" stroke-width="3.2" stroke-linecap="round"/>
<circle cx="190" cy="672" r="1.98" fill="#111"/>
<line x1="212.5" y1="630" x2="223.9" y2="623.9" stroke="#111" stroke-width="3.2" stroke-linecap="round"/>
<circle cx="212.5" cy="630" r="1.98" fill="#111"/>
<line x1="212.5" y1="667" x2="223.9" y2="660.9" stroke="#111" stroke-width="3.2" stroke-linecap="round"/>
<circle cx="212.5" cy="667" r="1.98" fill="#111"/>
<line x1="212.5" y1="686" x2="223.9" y2="679.9" stroke="#111" stroke-width="3.2" stroke-linecap="round"/>
<circle cx="212.5" cy="686" r="1.98" fill="#111"/>
<path d="M208 643 L223 650 M213 651 L222 645" stroke="#111" stroke-width="2.2" stroke-linecap="round"/>
<line x1="307.3" y1="654.2" x2="314.8" y2="650.2" stroke="#111" stroke-width="3.2" stroke-linecap="round"/>
<circle cx="307.3" cy="654.2" r="1.98" fill="#111"/>
<line x1="341.2" y1="662.4" x2="346.5" y2="659.6" stroke="#111" stroke-width="3" stroke-linecap="round"/>
<circle cx="341.2" cy="662.4" r="1.86" fill="#111"/>
<line x1="307.3" y1="670.0500000000001" x2="314.8" y2="666.1" stroke="#111" stroke-width="3.2" stroke-linecap="round"/>
<circle cx="307.3" cy="670.0500000000001" r="1.98" fill="#111"/>
<line x1="341.2" y1="678.25" x2="346.5" y2="675.4" stroke="#111" stroke-width="3" stroke-linecap="round"/>
<circle cx="341.2" cy="678.25" r="1.86" fill="#111"/>
<line x1="307.3" y1="685.9000000000001" x2="314.8" y2="681.9" stroke="#111" stroke-width="3.2" stroke-linecap="round"/>
<circle cx="307.3" cy="685.9000000000001" r="1.98" fill="#111"/>
<line x1="341.2" y1="694.1" x2="346.5" y2="691.3" stroke="#111" stroke-width="3" stroke-linecap="round"/>
<circle cx="341.2" cy="694.1" r="1.86" fill="#111"/>
<line x1="307.3" y1="701.75" x2="314.8" y2="697.8" stroke="#111" stroke-width="3.2" stroke-linecap="round"/>
<circle cx="307.3" cy="701.75" r="1.98" fill="#111"/>
<line x1="341.2" y1="709.9499999999999" x2="346.5" y2="707.1" stroke="#111" stroke-width="3" stroke-linecap="round"/>
<circle cx="341.2" cy="709.9499999999999" r="1.86" fill="#111"/>
<rect x="532" y="380.5" width="74" height="201.5" fill="none" stroke="#111" stroke-width="1.2"/>
<line x1="606" y1="445.3" x2="622" y2="445.3" stroke="#111" stroke-width="1"/>
<text x="626.5" y="449.3" font-size="10.6" fill="#222" textLength="49.5" lengthAdjust="spacingAndGlyphs">OPTIONAL</text>
<text x="649.5" y="482.6" font-size="10.6" fill="#222" textLength="48.5" lengthAdjust="spacingAndGlyphs">OPTIONAL</text>
<line x1="673.4" y1="486" x2="673.4" y2="507" stroke="#111" stroke-width="1"/>
<g stroke="#111" fill="#fff">
<g transform="translate(543.8 418.6) rotate(33)">
<path d="M-6.5 -5 L1.5 -5 L1.5 5 L-6.5 5 Z" fill="#fff" stroke-width="1.3"/>
<ellipse cx="-6.5" cy="0" rx="1.8" ry="5" fill="#fff" stroke-width="1.3"/>
<rect x="0.5" y="-5.3" width="6.5" height="10.6" rx="2.8" fill="#1a1a1a" stroke-width="0.6"/>
<ellipse cx="1.3" cy="0" rx="1.5" ry="4.8" fill="none" stroke="#fff" stroke-width="0.6"/>
</g>
<circle cx="542.9" cy="433" r="3.8" fill="#1a1a1a" stroke-width="0.5"/>
<path d="M553.8 421.6 L566.2 428.8 L564.4 432.2 L552 425 Z" stroke-width="1.1"/>
<ellipse cx="565.3" cy="430.5" rx="1.2" ry="1.9" transform="rotate(30 565.3 430.5)" fill="#111"/>
<path d="M567 431 L573 434 Q576.5 436 576.5 440 L576.5 445 L572.5 445 L572.5 440.5 Q572 438.5 570 437.5 L565.5 434.8 Z" stroke-width="0.9"/>
<rect x="572.5" y="445" width="3.8" height="3" stroke-width="0.8"/>
<rect x="572.2" y="449.8" width="4" height="107" stroke-width="0.9"/>
<line x1="574.6" y1="451" x2="574.6" y2="556" stroke="#888" stroke-width="0.6"/>
<path d="M572.5 557 L576.3 557 L576.3 563 L582 567 L580.5 570 L574 566 Q572.5 565 572.5 563 Z" stroke-width="0.9"/>
<path d="M583 568.5 L592.8 574 L591.3 577.3 L581.5 571.8 Z" stroke-width="0.9"/>
<ellipse cx="592" cy="575.6" rx="1.3" ry="1.9" transform="rotate(30 592 575.6)" stroke-width="0.8"/>
</g>
<line x1="577.2" y1="399.8" x2="574.6" y2="427" stroke="#111" stroke-width="0.9"/>
<circle cx="577" cy="394.2" r="5.6" fill="#fff" stroke="#111" stroke-width="1.15"/>
<text x="577" y="397.15" font-size="8.2" text-anchor="middle" fill="#222" stroke="#222" stroke-width="0.25" transform="translate(577 0) scale(0.74 1) translate(-577 0)">8</text>
<rect x="613.8" y="506.8" width="89.8" height="75.2" fill="none" stroke="#111" stroke-width="1.2"/>
<g stroke="#111" fill="#fff">
<path d="M621.6 554 L621.6 573 Q634 580 647 573 L647 554 Z" fill="#151515" stroke-width="0.8"/>
<path d="M622 573 L624 577 L627 577 L628 575 M640 576 L642 577.5 L645 577 L646 574" fill="#151515" stroke-width="0.8"/>
<path d="M624 560 Q634 566 645 560" fill="none" stroke="#fff" stroke-width="1.6"/>
<ellipse cx="634.3" cy="554" rx="12.7" ry="3.2" fill="#151515" stroke-width="0.8"/>
<path d="M620 544 Q619 548 621 552 L625 553 L628 551 L628 543 L624 542 Z" fill="#151515" stroke-width="0.8"/>
<ellipse cx="625.5" cy="547.5" rx="2" ry="3" fill="#fff" stroke-width="0.7"/>
<path d="M628.5 537 Q629 534 634 534.5 L644 535.5 Q647 536 648 538 L692 536 Q694 542 692.5 549 L649 549 Q646 551 640 551 L632 550 Q628 547 628.5 537 Z" stroke-width="1.1"/>
<path d="M659 537.5 L682 537 L682 540 L659 540.5 Z" stroke-width="0.8"/>
<circle cx="632.5" cy="540" r="2.2" stroke-width="0.9"/>
<circle cx="633" cy="548" r="2.4" stroke-width="0.9"/>
<circle cx="653" cy="547.3" r="1.3" stroke-width="0.8"/>
<path d="M644 536 Q647 539.5 644 544" fill="none" stroke-width="0.8"/>
</g>
<line x1="675.3" y1="523.5" x2="674.2" y2="535.8" stroke="#111" stroke-width="0.9"/>
<circle cx="675.6" cy="517.8" r="5.6" fill="#fff" stroke="#111" stroke-width="1.15"/>
<text x="675.6" y="520.75" font-size="8.2" text-anchor="middle" fill="#222" stroke="#222" stroke-width="0.25" transform="translate(675.6 0) scale(0.74 1) translate(-675.6 0)">11</text>
<g stroke="#111" fill="#fff">
<ellipse cx="567.4" cy="655.4" rx="10.7" ry="6.3" fill="none" stroke-width="1.1"/>
<ellipse cx="567.4" cy="655.4" rx="9" ry="4.8" fill="none" stroke-width="0.8"/>
<path d="M559.5 633 L559.5 641 Q567.5 646 575.5 641 L575.5 633 Z" stroke-width="1.1"/>
<path d="M560 641 L561 644 L564 644 M571 644 L574 644 L575 641" fill="none" stroke-width="1.3"/>
<ellipse cx="567.4" cy="629.5" rx="13" ry="6" stroke-width="1"/>
<path d="M561 605 Q559 620 561 634 L575.5 634 Q577 620 575.5 605 Z" stroke-width="1.2"/>
<rect x="564" y="607" width="9" height="26" fill="#888" stroke="none"/>
<path d="M567 607 L567 633 M570 607 L570 633" stroke="#eee" stroke-width="0.9"/>
<path d="M556.2 595 L557 602 Q567.6 608 578.2 602 L579 595 Z" fill="#3a3a3a" stroke-width="1"/>
<path d="M558 600 Q567.6 605 577 600" fill="none" stroke="#aaa" stroke-width="0.8" stroke-dasharray="1.2 1"/>
<ellipse cx="567.6" cy="595" rx="11.4" ry="4.2" fill="#777" stroke-width="1.2"/>
<path d="M559 595 Q563 592 567.6 596 Q572 592 576 595 M567.6 591.5 L567.6 598.5 M561 597 L565 594 M574 597 L570 594" fill="none" stroke="#111" stroke-width="0.9"/>
<ellipse cx="567.6" cy="594.8" rx="2" ry="1.3" fill="#fff" stroke-width="0.6"/>
<path d="M540.2 624.8 L568.8 612.2 L559.1 622.9 L543.6 633.5 Z" stroke-width="1"/>
<path d="M556 611 Q553 614 555 619 L561 622 L567 616 Q564 611 556 611 Z" stroke-width="1"/>
<ellipse cx="541.5" cy="629.2" rx="3.1" ry="4.5" transform="rotate(-20 541.5 629.2)" stroke-width="1.1"/>
<path d="M552 612 L555 616" stroke-width="2.2"/>
</g>
<line x1="586.5" y1="615.2" x2="610" y2="619" stroke="#111" stroke-width="0.9"/>
<circle cx="615.3" cy="620" r="5.6" fill="#fff" stroke="#111" stroke-width="1.15"/>
<text x="615.3" y="622.95" font-size="8.2" text-anchor="middle" fill="#222" stroke="#222" stroke-width="0.25" transform="translate(615.3 0) scale(0.74 1) translate(-615.3 0)">7</text>
<g stroke="#111">
<path d="M580 697 Q583 692 592 687.5 Q600 684.5 607 687.5 Q613 690 612.5 695 Q610 700 600 702.5 Q592 704 586 702 Q580 700 580 697 Z" fill="#fff" stroke-width="1.4"/>
<path d="M587.5 694 L605 689.5" stroke-width="3"/>
<path d="M590 693 L602 690" stroke="#888" stroke-width="0.7"/>
<path d="M580.5 697 Q583 693 587 690.5 L588 692 Q584 695 582.5 698.5 Z" fill="#333" stroke="none"/>
<path d="M583 695 Q588 689 596 687" fill="none" stroke-width="0.7"/>
<path d="M582 699 Q590 703 600 702.5" fill="none" stroke="#777" stroke-width="1.3"/>
<ellipse cx="600" cy="697.9" rx="2.4" ry="1.3" fill="#fff" stroke-width="0.9"/>
<rect x="582" y="679" width="2.6" height="6.8" rx="0.8" fill="#111" stroke="none"/>
<rect x="581.6" y="678.2" width="3.4" height="1.6" fill="#111" stroke="none"/>
</g>
<line x1="616.3" y1="697.8" x2="638.8" y2="705" stroke="#111" stroke-width="0.9"/>
<circle cx="644" cy="706.2" r="5.6" fill="#fff" stroke="#111" stroke-width="1.15"/>
<text x="644" y="709.1500000000001" font-size="8.2" text-anchor="middle" fill="#222" stroke="#222" stroke-width="0.25" transform="translate(644 0) scale(0.74 1) translate(-644 0)">6</text>
<g stroke="#111" fill="#fff">
<ellipse cx="541.5" cy="716" rx="13.5" ry="18.5" transform="rotate(-30 541.5 716)" stroke-width="1.3"/>
<path d="M553 703 L556 706 L557 710 L559 713 L559 717 L560 721 L558 725 L557 729 L555 732" fill="none" stroke-width="2"/>
<ellipse cx="541" cy="716.5" rx="10.3" ry="14.8" transform="rotate(-30 541 716.5)" fill="#2a2a2a" stroke-width="0.8"/>
<ellipse cx="542" cy="716.5" rx="7.8" ry="12.2" transform="rotate(-30 542 716.5)" fill="#fff" stroke-width="0.9"/>
<path d="M505 720 L518 716.5 Q531 721 529.5 730 L517 744 Z" stroke-width="1"/>
<path d="M502 721 L516 718 L520 735 L511 747 Z" fill="#3a3a3a" stroke="none"/>
<line x1="503.0" y1="720.5" x2="511.0" y2="746.0" stroke="#999" stroke-width="0.5"/>
<line x1="505.4" y1="720.1" x2="512.6" y2="743.8" stroke="#999" stroke-width="0.5"/>
<line x1="507.8" y1="719.7" x2="514.2" y2="741.6" stroke="#999" stroke-width="0.5"/>
<line x1="510.2" y1="719.3" x2="515.8" y2="739.4" stroke="#999" stroke-width="0.5"/>
<line x1="512.6" y1="718.9" x2="517.4" y2="737.2" stroke="#999" stroke-width="0.5"/>
<line x1="515.0" y1="718.5" x2="519.0" y2="735.0" stroke="#999" stroke-width="0.5"/>
<ellipse cx="524.5" cy="724" rx="4.5" ry="8" transform="rotate(-30 524.5 724)" stroke-width="0.9"/>
<ellipse cx="501" cy="739" rx="14.5" ry="21.5" transform="rotate(-30 501 739)" stroke-width="1.3"/>
<ellipse cx="501" cy="740" rx="10.3" ry="15" transform="rotate(-30 501 740)" stroke-width="1"/>
<ellipse cx="501.5" cy="740.5" rx="7" ry="10.5" transform="rotate(-30 501.5 740.5)" stroke-width="1"/>
<ellipse cx="502" cy="741" rx="5" ry="7.8" transform="rotate(-30 502 741)" stroke-width="0.8"/>
<ellipse cx="479.6" cy="750.5" rx="8.8" ry="13" transform="rotate(-30 479.6 750.5)" stroke-width="1.2"/>
<ellipse cx="479.6" cy="750.5" rx="6.6" ry="10.4" transform="rotate(-30 479.6 750.5)" stroke-width="0.9"/>
<ellipse cx="463.6" cy="759.9" rx="8.8" ry="13" transform="rotate(-30 463.6 759.9)" stroke-width="1.2"/>
<ellipse cx="463.6" cy="759.9" rx="6.6" ry="10.4" transform="rotate(-30 463.6 759.9)" stroke-width="0.9"/>
<ellipse cx="446.7" cy="769.6" rx="9.3" ry="13.7" transform="rotate(-30 446.7 769.6)" stroke-width="1.5"/>
<circle cx="453.5" cy="765.7" r="0.8" fill="#111" stroke="none"/>
<circle cx="455.7" cy="772.5" r="0.8" fill="#111" stroke="none"/>
<circle cx="454.4" cy="778.2" r="0.8" fill="#111" stroke="none"/>
<circle cx="450.3" cy="780.6" r="0.8" fill="#111" stroke="none"/>
<circle cx="444.7" cy="778.8" r="0.8" fill="#111" stroke="none"/>
<circle cx="439.9" cy="773.5" r="0.8" fill="#111" stroke="none"/>
<circle cx="437.7" cy="766.7" r="0.8" fill="#111" stroke="none"/>
<circle cx="439.0" cy="761.0" r="0.8" fill="#111" stroke="none"/>
<circle cx="443.1" cy="758.6" r="0.8" fill="#111" stroke="none"/>
<circle cx="448.7" cy="760.4" r="0.8" fill="#111" stroke="none"/>
<ellipse cx="446.7" cy="769.6" rx="7.8" ry="12" transform="rotate(-30 446.7 769.6)" fill="none" stroke="#888" stroke-width="0.8"/>
<ellipse cx="446.7" cy="769.6" rx="6.3" ry="10.2" transform="rotate(-30 446.7 769.6)" stroke-width="1"/>
<path d="M400 785 L413.5 780 Q421 786 419.2 798 L407 803 Z" stroke-width="1.1"/>
<ellipse cx="416.8" cy="789.2" rx="3.8" ry="8.8" transform="rotate(-15 416.8 789.2)" stroke-width="1.1"/>
<ellipse cx="397.2" cy="798" rx="8.8" ry="13.5" transform="rotate(-25 397.2 798)" fill="#1a1a1a" stroke-width="1"/>
<ellipse cx="398.5" cy="797.5" rx="5" ry="8" transform="rotate(-25 398.5 797.5)" fill="#555" stroke="#fff" stroke-width="0.8" stroke-dasharray="1.2 1"/>
<circle cx="398.5" cy="797.5" r="2.5" fill="#fff" stroke="none"/>
</g>
<line x1="421.5" y1="770.5" x2="426.8" y2="767.7" stroke="#111" stroke-width="3" stroke-linecap="round"/>
<circle cx="421.5" cy="770.5" r="1.86" fill="#111"/>
<line x1="418.8" y1="779.5" x2="424.1" y2="776.7" stroke="#111" stroke-width="3" stroke-linecap="round"/>
<circle cx="418.8" cy="779.5" r="1.86" fill="#111"/>
<line x1="431.3" y1="777" x2="436.6" y2="774.2" stroke="#111" stroke-width="3" stroke-linecap="round"/>
<circle cx="431.3" cy="777" r="1.86" fill="#111"/>
<line x1="426" y1="791" x2="431.3" y2="788.2" stroke="#111" stroke-width="3" stroke-linecap="round"/>
<circle cx="426" cy="791" r="1.86" fill="#111"/>
<line x1="433.9" y1="788.5" x2="439.2" y2="785.7" stroke="#111" stroke-width="3" stroke-linecap="round"/>
<circle cx="433.9" cy="788.5" r="1.86" fill="#111"/>
<line x1="377" y1="797.5" x2="382.3" y2="794.7" stroke="#111" stroke-width="3" stroke-linecap="round"/>
<circle cx="377" cy="797.5" r="1.86" fill="#111"/>
<line x1="370" y1="808" x2="375.3" y2="805.2" stroke="#111" stroke-width="3" stroke-linecap="round"/>
<circle cx="370" cy="808" r="1.86" fill="#111"/>
<line x1="384.2" y1="815.2" x2="389.5" y2="812.4" stroke="#111" stroke-width="3" stroke-linecap="round"/>
<circle cx="384.2" cy="815.2" r="1.86" fill="#111"/>
<line x1="530.1" y1="739.2" x2="553" y2="746" stroke="#111" stroke-width="0.9"/>
<circle cx="558.1" cy="748.1" r="5.3" fill="#fff" stroke="#111" stroke-width="1.15"/>
<text x="558.1" y="751.0500000000001" font-size="8.2" text-anchor="middle" fill="#222" stroke="#222" stroke-width="0.25" transform="translate(558.1 0) scale(0.74 1) translate(-558.1 0)">9</text>
</svg></body></html>
